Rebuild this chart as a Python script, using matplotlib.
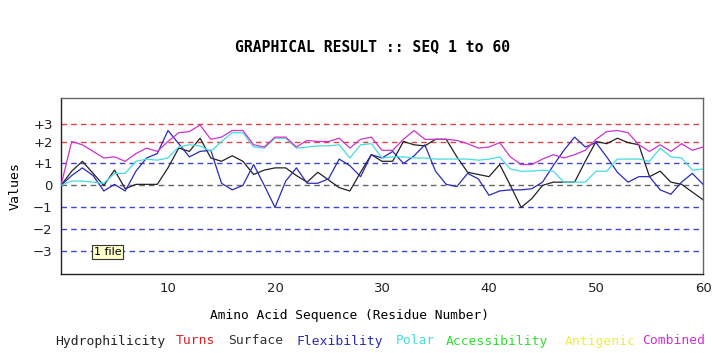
import matplotlib
matplotlib.use("Agg")
import matplotlib.pyplot as plt
import numpy as np

residues = list(range(0, 61))

surface = [0, 0.65, 1.1, 0.55, 0.0, 0.7, -0.15, 0.05, 0.05, 0.05,
           0.8, 1.7, 1.55, 2.15, 1.25, 1.1, 1.35, 1.1, 0.5, 0.7,
           0.8, 0.8, 0.45, 0.15, 0.6, 0.25, -0.1, -0.25, 0.6, 1.4,
           1.1, 1.1, 2.0, 1.85, 1.8, 2.1, 2.1, 1.3, 0.6, 0.5,
           0.4, 0.95, 0.0, -1.0, -0.6, 0.0, 0.15, 0.15, 0.15, 1.1,
           2.0, 1.9, 2.15, 1.95, 1.85, 0.4, 0.65, 0.15, 0.05, -0.3, -0.65]

flexibility = [0, 0.45, 0.8, 0.45, -0.25, 0.05, -0.25, 0.65, 1.25, 1.45,
               2.5, 1.9, 1.3, 1.55, 1.6, 0.1, -0.2, 0.0, 0.95, 0.0,
               -1.0, 0.2, 0.8, 0.1, 0.1, 0.3, 1.2, 0.9, 0.4, 1.4,
               1.25, 1.55, 1.0, 1.35, 1.85, 0.65, 0.05, -0.05, 0.55, 0.3,
               -0.45, -0.25, -0.2, -0.2, -0.15, 0.15, 0.9, 1.6, 2.2, 1.75,
               1.95, 1.3, 0.6, 0.15, 0.4, 0.4, -0.2, -0.4, 0.15, 0.55, 0.05]

polar = [0, 0.2, 0.2, 0.15, 0.1, 0.55, 0.55, 1.1, 1.2, 1.15,
         1.25, 1.75, 1.85, 1.8, 1.55, 2.0, 2.4, 2.4, 1.75, 1.7,
         2.15, 2.15, 1.7, 1.75, 1.8, 1.8, 1.85, 1.25, 1.85, 1.9,
         1.25, 1.3, 1.3, 1.25, 1.25, 1.2, 1.2, 1.2, 1.2, 1.15,
         1.2, 1.3, 0.75, 0.65, 0.65, 0.7, 0.65, 0.15, 0.15, 0.15,
         0.65, 0.65, 1.2, 1.2, 1.2, 1.1, 1.7, 1.3, 1.25, 0.7, 0.75]

combined = [0, 2.0, 1.85, 1.55, 1.25, 1.3, 1.1, 1.45, 1.7, 1.55,
            2.0, 2.4, 2.45, 2.75, 2.1, 2.2, 2.5, 2.5, 1.85, 1.75,
            2.2, 2.2, 1.75, 2.05, 2.0, 2.0, 2.15, 1.7, 2.1, 2.2,
            1.6, 1.6, 2.1, 2.5, 2.1, 2.1, 2.1, 2.05, 1.9, 1.7,
            1.75, 1.95, 1.3, 0.95, 0.95, 1.2, 1.4, 1.25, 1.4, 1.6,
            2.1, 2.45, 2.5, 2.4, 1.85, 1.55, 1.85, 1.55, 1.9, 1.6, 1.75]

ytick_vals = [-3, -2, -1, 0, 1, 2, 2.8]
ytick_labels = ["\u22123", "\u22122", "\u22121", "0", "+1", "+2", "+3"]
xtick_vals = [10, 20, 30, 40, 50, 60]

legend_words = ["Hydrophilicity", "Turns", "Surface", "Flexibility", "Polar",
                "Accessibility", "Antigenic", "Combined"]
legend_colors = ["#222222", "#dd2222", "#333333", "#2a2ab8", "#44dddd",
                 "#33dd33", "#eeee44", "#cc33cc"]
legend_x = [55, 176, 228, 297, 396, 446, 565, 642]

fig = plt.figure(figsize=(7.12, 3.53), dpi=100)
W, H = 712, 353
ax = fig.add_axes([61 / W, 1 - 274 / H, (703 - 61) / W, (274 - 98) / H])
ax.set_xlim(0, 60)
ax.set_ylim(-4.03, 3.98)

grid_colors = {-3: "#4444cc", -2: "#4444cc", -1: "#4444cc", 0: "#666666",
               1: "#4444cc", 2: "#dd4444", 2.8: "#dd4444"}
for v in ytick_vals:
    ax.axhline(v, color=grid_colors[v], lw=1.0, ls=(0, (4, 3)), zorder=1)

ax.plot(residues, surface, color="#222222", lw=0.9, zorder=3)
ax.plot(residues, flexibility, color="#2a2ab8", lw=0.9, zorder=3)
ax.plot(residues, polar, color="#44dddd", lw=0.9, zorder=3)
ax.plot(residues, combined, color="#cc33cc", lw=0.9, zorder=3)

ax.set_yticks(ytick_vals)
ax.set_yticklabels(ytick_labels, fontsize=9.5, color="#222222")
ax.set_xticks(xtick_vals)
ax.set_xticklabels([str(v) for v in xtick_vals], fontsize=9.5, color="#222222")
ax.tick_params(length=0, pad=6)
for s in ax.spines.values():
    s.set_color("#666666")
    s.set_linewidth(1.0)
ax.spines["left"].set_color("#222222")
ax.spines["bottom"].set_color("#222222")

ax.set_ylabel("Values", fontsize=9.5, family="DejaVu Sans Mono", labelpad=8)

fig.text(373 / W, 1 - 47 / H, "GRAPHICAL RESULT :: SEQ 1 to 60", ha="center",
         va="center", fontsize=10.6, fontweight="bold", family="DejaVu Sans Mono")
fig.text(350 / W, 1 - 316 / H, "Amino Acid Sequence (Residue Number)", ha="center",
         va="center", fontsize=9.3, family="DejaVu Sans Mono")

for w, c, x in zip(legend_words, legend_colors, legend_x):
    fig.text(x / W, 1 - 341 / H, w, ha="left", va="center", fontsize=9.4,
             color=c, family="DejaVu Sans Mono")

fig.text(94 / W, 1 - 252 / H, "1 file", ha="left", va="center", fontsize=8,
         bbox=dict(boxstyle="square,pad=0.15", fc="#ffffcc", ec="#333333", lw=0.8))

fig.savefig("out.png", dpi=100, facecolor="white")
